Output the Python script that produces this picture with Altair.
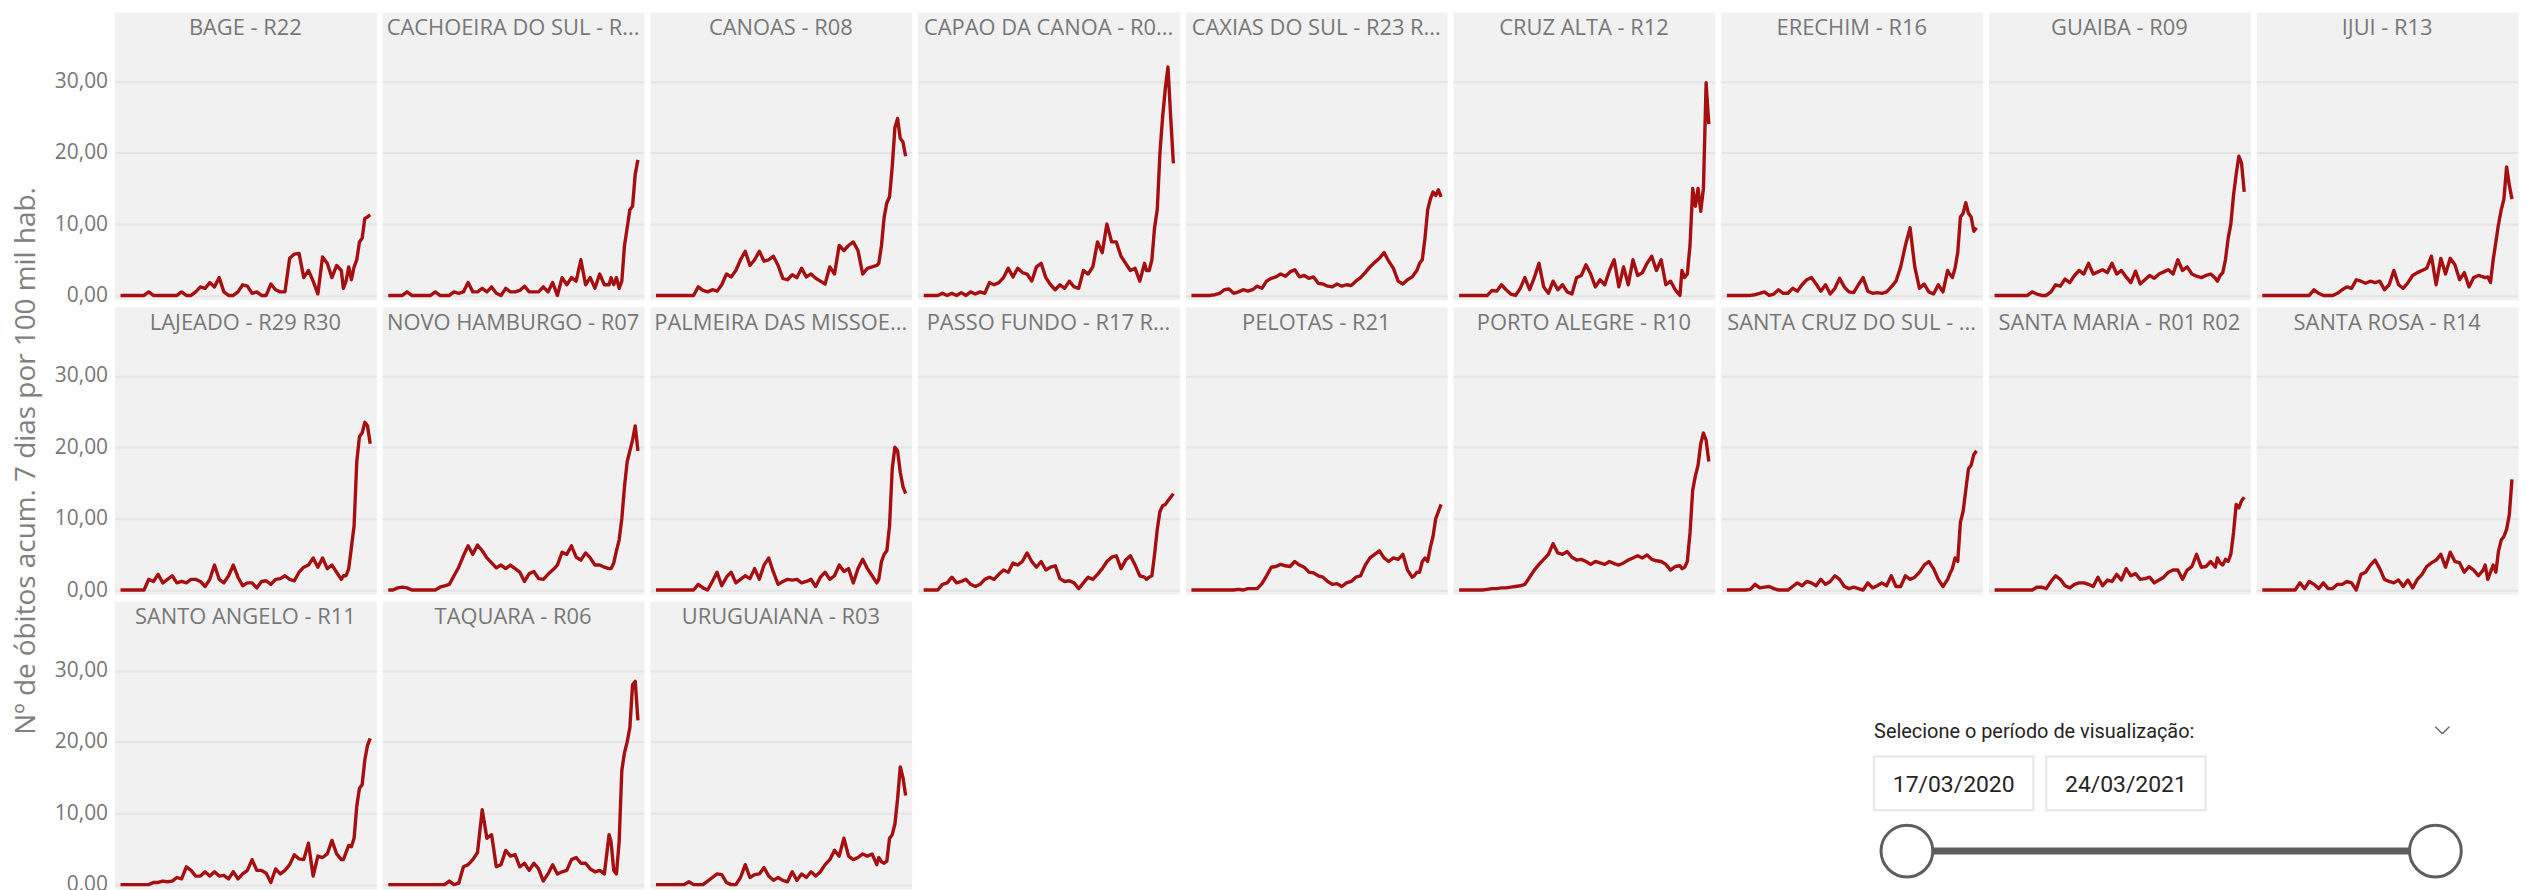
import altair as alt
import pandas as pd

# ---------------- data ----------------
# sample dates: weekly from 17/03/2020, then every 4 days from 12/02/2021 to 24/03/2021
dates = [d.strftime("%Y-%m-%dT00:00:00") for d in
         list(pd.date_range("2020-03-17", periods=48, freq="7D")) +
         list(pd.date_range("2021-02-12", "2021-03-24", freq="4D"))]

bage = [0, 0, 0, 0, 0, 0, 0.5, 0, 0, 0, 0, 0,
        0, 0.5, 0, 0, 0.5, 1.2, 1, 1.8, 1.2, 2.5, 0.5, 0,
        0, 0.5, 1.5, 1.3, 0.3, 0.5, 0, 0, 1.6, 0.8, 0.5, 0.5,
        5.2, 5.8, 5.9, 2.5, 3.5, 2, 0.2, 5.4, 4.5, 2.5, 4.2, 3.5,
        1, 2, 4, 2.2, 4, 5, 7.5, 8, 10.8, 11, 11.3]
cachoeira = [0, 0, 0, 0, 0.5, 0, 0, 0, 0, 0, 0.5, 0,
             0, 0, 0.5, 0.3, 0.5, 1.8, 0.5, 0.5, 1, 0.5, 1.2, 0.3,
             0, 1, 0.5, 0.5, 0.7, 1.3, 0.5, 0.5, 0.5, 1.2, 0.5, 1.8,
             0, 2.5, 1.5, 2.5, 2, 5, 1.5, 2.5, 1, 3, 1.5, 1.5,
             2.5, 1.5, 2.5, 1, 2, 7, 9.5, 12, 12.5, 17, 19]
canoas = [0, 0, 0, 0, 0, 0, 0, 0, 0, 1.2, 0.7, 0.5,
          0.8, 0.6, 1.5, 3, 2.6, 3.5, 5, 6.2, 4.2, 5, 6.2, 4.8,
          5, 5.5, 4.2, 2.4, 2.2, 2.9, 2.5, 3.8, 2.6, 3, 2.4, 2,
          1.6, 4, 3, 7, 6.3, 7, 7.5, 6.3, 3, 3.8, 4, 4.2,
          4.5, 7, 11, 13, 13.8, 18, 23.5, 24.8, 22, 21.5, 19.5]
capao = [0, 0, 0, 0, 0.3, 0, 0.3, 0, 0.4, 0, 0.5, 0.2,
         0.5, 0.3, 1.8, 1.5, 1.8, 2.5, 3.8, 2.6, 3.8, 3.2, 3, 2,
         4, 4.5, 2.5, 1.5, 0.8, 1.5, 1, 2, 1.2, 1, 3.5, 3,
         4, 7.5, 6, 10, 7.5, 7.5, 5.5, 4.5, 3.5, 3.8, 2, 4.5,
         3.5, 3.5, 5, 9.5, 12, 20, 25, 29, 32, 25, 18.5]
caxias = [0, 0, 0, 0, 0, 0.1, 0.3, 0.8, 0.9, 0.3, 0.5, 0.8,
          0.6, 0.8, 1.3, 1, 2, 2.4, 2.6, 3, 2.7, 3.3, 3.6, 2.6,
          2.8, 2.4, 2.6, 1.7, 1.6, 1.3, 1.2, 1.6, 1.3, 1.5, 1.4, 2,
          2.5, 3.2, 4, 4.6, 5.2, 6, 4.8, 3.8, 2, 1.6, 2.2, 2.6,
          3, 3.5, 4.5, 5, 8, 12, 13.5, 14.5, 14, 14.8, 13.8]
cruz_alta = [0, 0, 0, 0, 0, 0, 0, 0.7, 0.6, 1.5, 0.8, 0.2,
             0, 1, 2.5, 0.8, 2.5, 4.5, 1.2, 0.3, 2, 0.8, 1.5, 0.5,
             0.2, 2.5, 2.8, 4.3, 3, 1.2, 2.2, 1.5, 3.5, 5, 1.2, 4,
             1.5, 5, 2.8, 3.2, 4.5, 5.5, 3.5, 5, 1.5, 2, 0.8, 0,
             3.5, 2.5, 3, 7, 15, 12.5, 15, 11.8, 15, 29.8, 24]
erechim = [0, 0, 0, 0, 0, 0, 0.1, 0.3, 0.5, 0, 0.2, 0.8,
           0.3, 0.3, 1, 0.6, 1.5, 2.2, 2.5, 1.6, 0.6, 1.5, 0.2, 1,
           2.4, 1.2, 0.5, 0.4, 1.5, 2.5, 0.6, 0.3, 0.4, 0.3, 0.5, 1.2,
           2, 4, 7, 9.5, 4, 1, 1.6, 0.5, 0.2, 1.5, 0.5, 3.5,
           3, 2.5, 3.8, 6, 11, 11.5, 13, 11.5, 11, 9, 9.5]
guaiba = [0, 0, 0, 0, 0, 0, 0, 0, 0.5, 0.2, 0, 0,
          0.5, 1.5, 1.3, 2.3, 1.8, 2.8, 3.5, 3, 4.5, 3, 3.3, 3.6,
          3.2, 4.5, 3, 3.5, 2.6, 1.8, 3.4, 1.6, 2.2, 2.8, 2.4, 3,
          3.3, 3.6, 3, 5, 3.5, 4, 3, 2.7, 2.5, 2.8, 3, 2.4,
          2, 2.8, 3.2, 5, 8, 10, 14, 17, 19.5, 18.5, 14.5]
ijui = [0, 0, 0, 0, 0, 0, 0, 0, 0, 0, 0, 0.8,
        0.3, 0, 0, 0, 0.3, 0.8, 1.2, 1, 2.2, 2, 1.7, 2,
        1.8, 2, 0.8, 1.5, 3.5, 1.5, 1, 1.8, 2.8, 3.2, 3.5, 3.8,
        5.5, 1.5, 5.2, 3, 5.2, 4.3, 2.2, 3.2, 1.2, 2.5, 2.8, 2.6,
        2.5, 2.6, 1.8, 5, 7.5, 10, 12, 13.5, 18, 15.5, 13.5]
lajeado = [0, 0, 0, 0, 0, 0, 1.5, 1.2, 2.2, 1, 1.5, 2,
           1, 1.2, 1, 1.5, 1.5, 1.2, 0.5, 1.5, 3.5, 1.5, 1, 2,
           3.5, 1.8, 0.6, 1, 1, 0.3, 1.2, 1.3, 0.8, 1.5, 1.6, 2,
           1.5, 1.3, 2.5, 3.2, 3.5, 4.5, 3.2, 4.5, 3, 3.5, 2.5, 1.5,
           2, 2, 3, 6, 9, 18, 21.5, 22, 23.5, 23, 20.5]
novo_hamburgo = [0, 0, 0.3, 0.4, 0.3, 0, 0, 0, 0, 0, 0, 0.4,
                 0.6, 0.8, 2, 3.2, 4.8, 6.2, 5, 6.3, 5.5, 4.5, 3.8, 3.1,
                 3.5, 3, 3.5, 3, 2.5, 1.2, 2.3, 2.6, 1.6, 1.5, 2.2, 2.8,
                 3.5, 5.3, 5, 6.2, 4.6, 4.2, 5.2, 4.5, 3.5, 3.5, 3.2, 3,
                 3, 3.8, 5.5, 7, 10, 14.5, 18, 19.5, 21, 23, 19.5]
palmeira = [0, 0, 0, 0, 0, 0, 0, 0, 0, 0.8, 0.3, 0,
            1.2, 2.5, 0.6, 1.8, 2.5, 1, 1.5, 2, 1.6, 3, 1.5, 3.5,
            4.5, 2.5, 0.8, 1.2, 1.5, 1.4, 1.5, 1, 1.2, 1.5, 0.5, 1.8,
            2.5, 1.5, 2, 3.5, 2.6, 3, 1, 3, 4.3, 3, 2, 1,
            1.5, 4, 5, 5.5, 9, 17, 20, 19.5, 16.5, 14.5, 13.5]
passo_fundo = [0, 0, 0, 0, 0.8, 1, 1.8, 1, 1.2, 1.5, 0.8, 0.5,
               0.8, 1.5, 1.8, 1.5, 2.2, 2.8, 2.5, 3.8, 3.5, 4, 5.2, 4,
               3.2, 4, 2.8, 3.2, 3.4, 1.6, 1.2, 1.3, 1, 0.2, 1, 1.8,
               1.5, 2.2, 3, 4, 4.6, 4.8, 3, 4.2, 4.8, 3.5, 2, 1.8,
               1.5, 1.8, 2, 5, 8.5, 11, 11.8, 12, 12.5, 13, 13.5]
pelotas = [0, 0, 0, 0, 0, 0, 0, 0, 0, 0, 0.1, 0,
           0.2, 0.2, 0.2, 0.9, 2, 3.2, 3.3, 3.6, 3.4, 3.3, 4, 3.5,
           3.2, 2.5, 2.4, 2, 1.8, 1.2, 0.8, 0.9, 0.5, 1, 1.2, 1.8,
           2, 3.5, 4.5, 5, 5.5, 4.5, 4, 4.5, 4.3, 5, 2.8, 1.8,
           2, 2.5, 2.5, 4, 4.5, 4, 6, 7.5, 10, 11, 12]
porto_alegre = [0, 0, 0, 0, 0, 0, 0.1, 0.2, 0.2, 0.3, 0.3, 0.4,
                0.5, 0.6, 0.8, 1.8, 2.8, 3.6, 4.3, 5, 6.5, 5.2, 5, 5.4,
                4.6, 4.2, 4.3, 4, 3.6, 4, 3.8, 3.6, 4, 3.7, 3.5, 3.8,
                4.2, 4.5, 4.8, 4.5, 4.9, 4.3, 4.1, 4, 3.6, 2.8, 3.3, 3.4,
                3, 3.2, 4, 8, 14, 16, 17.5, 20.5, 22, 21, 18]
santa_cruz = [0, 0, 0, 0, 0, 0.1, 0.8, 0.3, 0.4, 0.5, 0.2, 0,
              0, 0, 0.5, 1, 0.6, 1.2, 1, 0.6, 1.5, 0.8, 1.2, 2,
              1.5, 0.5, 0.2, 0.4, 0.2, 0, 1, 0.3, 0.6, 1, 0.6, 2,
              0.5, 0.5, 2, 1.5, 1.8, 2.5, 3.5, 4, 3, 1.5, 0.5, 1.5,
              2.2, 3, 4.5, 4, 9.5, 11, 14, 17, 17.5, 19, 19.5]
santa_maria = [0, 0, 0, 0, 0, 0, 0, 0, 0, 0.4, 0.4, 0.2,
               1.2, 2, 1.5, 0.6, 0.3, 0.8, 1, 1, 0.8, 0.5, 1.8, 0.6,
               1.4, 1.2, 2.2, 1.4, 3, 2, 2.3, 1.5, 1.6, 1.8, 1, 1.4,
               1.8, 2.5, 2.8, 2.8, 1.5, 2.8, 3.3, 5, 3.2, 3.3, 4, 3.2,
               4.5, 3.8, 3.5, 4.3, 4, 5, 8, 12, 11.5, 12.5, 13]
santa_rosa = [0, 0, 0, 0, 0, 0, 0, 0, 1, 0.2, 1.2, 0.8,
              0.2, 1, 0.2, 0.2, 0.8, 0.8, 1.2, 1, 0, 2.2, 2.5, 3.5,
              4.2, 3, 1.5, 1.2, 1, 1.4, 0.5, 1.4, 0.3, 1.5, 2.2, 3.3,
              3.8, 4.2, 5, 3.2, 5.3, 4, 3.8, 2.5, 3.3, 2.8, 2, 2.8,
              3.5, 1.5, 2.5, 3.5, 2.5, 5.5, 7, 7.5, 8.5, 10.5, 15.5]
santo_angelo = [0, 0, 0, 0, 0, 0, 0, 0.3, 0.3, 0.5, 0.4, 0.5,
                1, 0.8, 2.5, 2, 1.2, 1.2, 1.8, 1.2, 1.8, 1.2, 1.3, 0.8,
                1.8, 0.8, 1.5, 2, 3.5, 2, 2, 1.6, 0.3, 2.2, 1.5, 2,
                2.8, 4.2, 3.6, 3.5, 5.8, 1.2, 4, 3.8, 4.3, 6.2, 4.3, 3.5,
                3.5, 4.5, 5.5, 5.3, 6.5, 11, 13.5, 14, 17.5, 19.5, 20.5]
taquara = [0, 0, 0, 0, 0, 0, 0, 0, 0, 0, 0, 0,
           0, 0.5, 0, 0.2, 2.5, 2.8, 3.5, 4.5, 10.5, 6.5, 7, 2.5,
           2.8, 4.8, 4, 4.2, 2.5, 3, 2, 3, 2.2, 0.5, 1.5, 2.8,
           1.5, 1.8, 2, 3.5, 3.8, 3, 3, 2.2, 1.8, 2, 1.5, 7,
           6, 2, 1.5, 6, 16, 18.5, 20, 22, 28, 28.5, 23]
uruguaiana = [0, 0, 0, 0, 0, 0, 0, 0.4, 0, 0, 0, 0.5,
              1, 1.5, 1.4, 0.3, 0, 0, 1, 2.8, 1, 1.4, 1.5, 2.4,
              1.2, 0.6, 1, 0.6, 0.4, 1.8, 0.6, 1.5, 1, 1.8, 1.2, 1.8,
              2.8, 3.5, 4.8, 4, 6.5, 4, 3.5, 3.8, 4.3, 4, 4.3, 2.8,
              3.8, 3.2, 3, 3.3, 6.5, 7, 8.5, 12, 16.5, 15, 12.5]

region_names = [
    "BAGE - R22", "CACHOEIRA DO SUL - R27", "CANOAS - R08", "CAPAO DA CANOA - R04 R05",
    "CAXIAS DO SUL - R23 R24 R25 R26", "CRUZ ALTA - R12", "ERECHIM - R16", "GUAIBA - R09",
    "IJUI - R13", "LAJEADO - R29 R30", "NOVO HAMBURGO - R07", "PALMEIRA DAS MISSOES - R15 R20",
    "PASSO FUNDO - R17 R18 R19", "PELOTAS - R21", "PORTO ALEGRE - R10", "SANTA CRUZ DO SUL - R28",
    "SANTA MARIA - R01 R02", "SANTA ROSA - R14", "SANTO ANGELO - R11", "TAQUARA - R06",
    "URUGUAIANA - R03"]
region_values = [bage, cachoeira, canoas, capao, caxias, cruz_alta, erechim, guaiba, ijui,
                 lajeado, novo_hamburgo, palmeira, passo_fundo, pelotas, porto_alegre,
                 santa_cruz, santa_maria, santa_rosa, santo_angelo, taquara, uruguaiana]
y_ticks = [0, 10, 20, 30]
y_title = "Nº de óbitos acum. 7 dias por 100 mil hab."

slicer_title = "Selecione o período de visualização:"
slicer_dates = ["17/03/2020", "24/03/2021"]

# ---------------- style ----------------
RED = "#a50f0f"
GRID = "#e3e3e3"
BG = "#f1f1f1"
TXT = "#777777"
FONT = "Open Sans"
W, H = 263, 289
Y_DOMAIN = [-0.6, 39.7]
X_DOMAIN = [alt.DateTime(year=2020, month=3, date=8), alt.DateTime(year=2021, month=4, date=2)]


def panel(name, values, first_col):
    df = pd.DataFrame({"date": dates, "value": values})
    axis_kw = dict(values=y_ticks, grid=True, gridColor=GRID, gridWidth=2, domain=False,
                   ticks=False, labels=first_col, labelFont=FONT, labelFontSize=21,
                   labelColor=TXT, labelPadding=7,
                   labelExpr="replace(format(datum.value, '.2f'), '.', ',')")
    line = alt.Chart(df).mark_line(color=RED, strokeWidth=3.4, strokeJoin="round", clip=True).encode(
        x=alt.X("date:T", scale=alt.Scale(domain=X_DOMAIN), axis=None),
        y=alt.Y("value:Q", scale=alt.Scale(domain=Y_DOMAIN, nice=False, zero=False),
                axis=alt.Axis(**axis_kw), title=None),
    )
    lab = alt.Chart(pd.DataFrame({"name": [name]})).mark_text(
        font=FONT, fontSize=22, color=TXT, align="center", baseline="middle",
        limit=255, ellipsis="...").encode(text="name:N", x=alt.value(W / 2), y=alt.value(16))
    return alt.layer(line, lab).properties(
        width=W, height=H, view=alt.ViewBackground(fill=BG, stroke="transparent"))


panels = [panel(n, v, i % 9 == 0) for i, (n, v) in enumerate(zip(region_names, region_values))]

one = pd.DataFrame({"k": [0]})

# ---------------- shared y title (its own narrow column) ----------------
TOTAL_H = 3 * H + 2 * 5
TW = 40
ytitle_chart = alt.Chart(one).mark_text(
    angle=270, align="center", baseline="alphabetic", font=FONT, fontSize=28,
    color="#808080").encode(text=alt.value(y_title), x=alt.value(26), y=alt.value(451)).properties(
    width=TW, height=TOTAL_H, view=alt.ViewBackground(fill="transparent", stroke="transparent"))

# ---------------- slicer widget ----------------
SW = 1598
DARK = "#252423"
s_title = alt.Chart(one).mark_text(align="left", baseline="middle", font="Roboto", fontSize=20,
                                   color=DARK).encode(text=alt.value(slicer_title),
                                                      x=alt.value(961), y=alt.value(131))
box1 = alt.Chart(one).mark_rect(fill="white", stroke="#e6e6e6", strokeWidth=2).encode(
    x=alt.value(961), x2=alt.value(1121), y=alt.value(156), y2=alt.value(210))
box2 = alt.Chart(one).mark_rect(fill="white", stroke="#e6e6e6", strokeWidth=2).encode(
    x=alt.value(1134), x2=alt.value(1294), y=alt.value(156), y2=alt.value(210))
d1 = alt.Chart(one).mark_text(align="center", baseline="middle", font="Roboto", fontSize=23,
                              color=DARK).encode(text=alt.value(slicer_dates[0]),
                                                 x=alt.value(1041), y=alt.value(185))
d2 = alt.Chart(one).mark_text(align="center", baseline="middle", font="Roboto", fontSize=23,
                              color=DARK).encode(text=alt.value(slicer_dates[1]),
                                                 x=alt.value(1214), y=alt.value(185))
track = alt.Chart(one).mark_rule(color="#605e5c", strokeWidth=7).encode(
    x=alt.value(994), x2=alt.value(1525), y=alt.value(251))
knob1 = alt.Chart(one).mark_point(shape="circle", size=2704, filled=True, fill="white",
                                  stroke="#605e5c", strokeWidth=3, opacity=1).encode(
    x=alt.value(994), y=alt.value(251))
knob2 = alt.Chart(one).mark_point(shape="circle", size=2704, filled=True, fill="white",
                                  stroke="#605e5c", strokeWidth=3, opacity=1).encode(
    x=alt.value(1525), y=alt.value(251))
chev1 = alt.Chart(one).mark_rule(color="#666666", strokeWidth=1.5).encode(
    x=alt.value(1525), y=alt.value(126), x2=alt.value(1532), y2=alt.value(133))
chev2 = alt.Chart(one).mark_rule(color="#666666", strokeWidth=1.5).encode(
    x=alt.value(1532), y=alt.value(133), x2=alt.value(1539), y2=alt.value(126))
slicer = alt.layer(s_title, box1, box2, d1, d2, track, knob1, knob2, chev1, chev2).properties(
    width=SW, height=H, view=alt.ViewBackground(fill="transparent", stroke="transparent"))

row1 = alt.hconcat(*panels[0:9], spacing=4)
row2 = alt.hconcat(*panels[9:18], spacing=4)
row3 = alt.hconcat(*panels[18:21], slicer, spacing=4)
grid = alt.vconcat(row1, row2, row3, spacing=-1)

chart = alt.hconcat(ytitle_chart, grid, spacing=4).properties(
    padding={"left": 0, "top": 1, "right": 0, "bottom": 0},
    background="white",
).configure(font=FONT)

chart.save("out.html", embed_options={"renderer": "svg", "actions": False})
